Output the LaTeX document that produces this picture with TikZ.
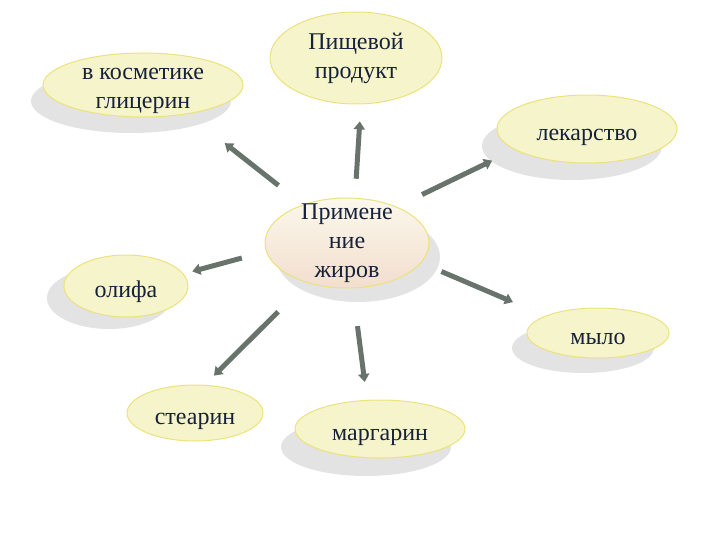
\documentclass[tikz,border=0pt]{standalone}
\usepackage{fontspec}
\setmainfont{Liberation Serif}
\usepackage{xcolor}
\usetikzlibrary{shapes.geometric,arrows.meta,shadows}

\definecolor{bubblefill}{HTML}{F6F4CB}
\definecolor{bubbleedge}{HTML}{ECE27C}
\definecolor{shadowgray}{HTML}{E3E3E3}
\definecolor{hubtop}{HTML}{FBF8EC}
\definecolor{hubbottom}{HTML}{F2DECE}
\definecolor{spokecolor}{HTML}{67736B}
\definecolor{inkblue}{HTML}{16213A}

\begin{document}
\begin{tikzpicture}[
    x=1pt, y=-1pt,
    bubble/.style={ellipse, draw=bubbleedge, line width=1pt, fill=bubblefill, inner sep=0pt, align=center, font=\fontsize{24}{29}\selectfont, text=inkblue},
    oneline/.style={bubble, text height=23pt, text depth=0pt},
    dims/.style 2 args={minimum width=#1pt, minimum height=#2pt},
    shadowed/.style 2 args={drop shadow={shadow xshift=#1pt, shadow yshift=#2pt, fill=shadowgray, opacity=1}},
    hubbubble/.style={bubble, top color=hubtop, bottom color=hubbottom, inner ysep=-10pt},
    spoke/.style={-{Triangle[length=8pt,width=11pt]}, line width=5pt, draw=spokecolor},
]
\useasboundingbox (0,0) rectangle (720,540);

% centre
\node[hubbubble, dims={164}{90}, shadowed={11}{-14}] (hubc) at (347,243) {Примене\\ние\\жиров};

% outer bubbles
\node[bubble, dims={200}{64}, shadowed={-12}{-16}, text height=52pt, inner ysep=-10pt, inner xsep=-3pt] (glyc) at (143,85) {в косметике\\глицерин};
\node[bubble, dims={172}{92}] (food) at (356,58) {Пищевой\\продукт};
\node[oneline, dims={180}{68}, shadowed={-15}{-17}] (drug) at (587,129) {лекарство};
\node[oneline, dims={124}{62}, shadowed={-17}{-12}] (oil) at (126,286) {олифа};
\node[oneline, dims={142}{50}, shadowed={-15}{-15}] (soap) at (598,333) {мыло};
\node[oneline, dims={136}{56}] (stear) at (195,413) {стеарин};
\node[oneline, dims={170}{58}, shadowed={-14}{-18}] (marg) at (380,429) {маргарин};

\draw[spoke, shorten <=31pt, shorten >=47pt] (hubc.139) -- (glyc.327);
\draw[spoke, shorten <=19pt, shorten >=17pt] (hubc.80) -- (food.276);
\draw[spoke, shorten <=28pt, shorten >=25pt] (hubc.36) -- (drug.196);
\draw[spoke, shorten <=25pt, shorten >=9pt] (hubc.186) -- (oil.12);
\draw[spoke, shorten <=22pt, shorten >=35pt] (hubc.345) -- (soap.162);
\draw[spoke, shorten <=41pt, shorten >=13pt] (hubc.225) -- (stear.71);
\draw[spoke, shorten <=38pt, shorten >=18pt] (hubc.277) -- (marg.114);
\end{tikzpicture}
\end{document}
